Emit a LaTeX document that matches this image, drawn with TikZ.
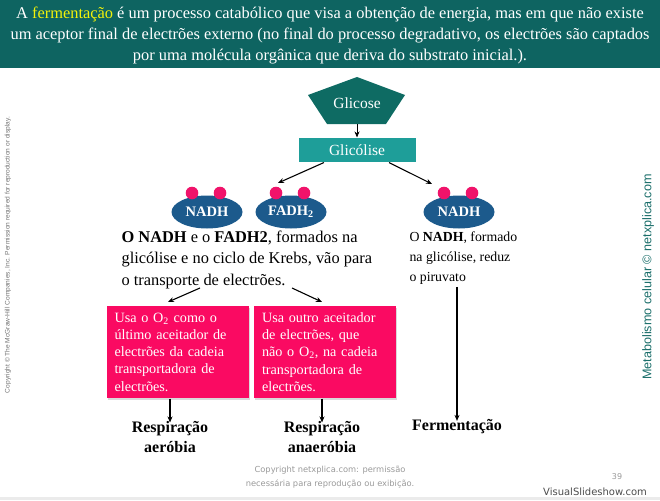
\documentclass[tikz,border=0pt]{standalone}
\usepackage{fontspec}
\setmainfont{Liberation Serif}
\setsansfont{Liberation Sans}
\newfontfamily\verdfont{DejaVu Sans}
\usetikzlibrary{shadows,arrows.meta,shapes.geometric}
\definecolor{banner}{HTML}{0E6461}
\definecolor{glicose}{HTML}{0E6B63}
\definecolor{glicolise}{HTML}{1E9E99}
\definecolor{carrier}{HTML}{1C5A8C}
\definecolor{dot}{HTML}{F0136A}
\definecolor{pinkbox}{HTML}{FA0A62}
\definecolor{sidetxt}{HTML}{1A6E6A}
\definecolor{fermyellow}{HTML}{F2F20A}
\tikzset{
  carrierbox/.style={ellipse,fill=carrier,minimum width=71pt,minimum height=33pt,inner sep=0pt,
    text=white,font=\bfseries\fontsize{14.5}{14.5}\selectfont},
  pinkrect/.style={fill=pinkbox,text=white,minimum width=139pt,minimum height=92pt,inner xsep=8pt,
    text width=126pt,align=left,font=\fontsize{14.2}{17.3}\selectfont,
    drop shadow={shadow xshift=1pt,shadow yshift=-2pt,opacity=.3}},
  resultlbl/.style={font=\bfseries\fontsize{16}{20}\selectfont,align=center},
}
\begin{document}
\begin{tikzpicture}[x=1pt,y=-1pt,>={Stealth[length=6pt,width=5pt]},line width=1.1pt]
  \useasboundingbox (0,0) rectangle (660,500);
  \fill[banner] (0,0) rectangle (660,68);
  \fill[black!8] (0,497) rectangle (660,500);
  \node[text=white,align=center,font=\fontsize{16.4}{21}\selectfont] (intro) at (330,35)
    {A \textcolor{fermyellow}{fermentação} é um processo catabólico que visa a obtenção de energia, mas em que não existe\\
     um aceptor final de electrões externo (no final do processo degradativo, os electrões são captados\\
     por uma molécula orgânica que deriva do substrato inicial.).};
  % side notes
  \node[rotate=90,text=black!55,font=\sffamily\fontsize{6.6}{7}\selectfont] (mcgraw) at (8,255)
    {Copyright © The McGraw-Hill Companies, Inc. Permission required for reproduction or display.};
  \node[rotate=90,text=sidetxt,font=\sffamily\fontsize{12.6}{14}\selectfont] (netx) at (648,277)
    {Metabolismo celular © netxplica.com};
  % glicose and glicolise
  \fill[glicose] (357,77) -- (405,95) -- (386,124) -- (327,124) -- (308,95) -- cycle;
  \node[text=white,font=\fontsize{15.5}{15.5}\selectfont] (glicose) at (357,103) {Glicose};
  \coordinate (gbot) at (357,124);
  \node[fill=glicolise,text=white,minimum width=117pt,minimum height=24pt,
    font=\fontsize{15.5}{15.5}\selectfont] (glic) at (357,150) {Glicólise};
  \draw[->,line width=.8pt] (gbot) -- (glic.north);
  % carriers
  \foreach \n/\x/\t in {nadhA/207/NADH,fadh/291/FADH\textsubscript{2},nadhB/459/NADH}{
    \node[carrierbox] (\n) at (\x,212) {\t};
    \fill[dot] (\x-15,193) circle (6.3pt) (\x+13,193) circle (6.3pt);
  }
  \coordinate (tipL) at (278,183);
  \coordinate (tipR) at (432,184);
  \draw[->] (glic.south west) ++(26,0) -- (tipL);
  \draw[->] (glic.south east) ++(-27,0) -- (tipR);
  % texts
  \node[anchor=north west,inner sep=0pt,align=left,font=\fontsize{16.4}{21.5}\selectfont] (cadeia) at (121,230)
    {\textbf{O NADH} e o \textbf{FADH2}, formados na\\
     glicólise e no ciclo de Krebs, vão para\\
     o transporte de electrões.};
  \node[anchor=north west,inner sep=0pt,align=left,font=\fontsize{13.8}{20}\selectfont] (piru) at (409,231)
    {O \textbf{NADH}, formado\\ na glicólise, reduz\\ o piruvato};
  \node[pinkrect] (boxA) at (177.5,352) {Usa o O\textsubscript{2} como o\\ último aceitador de\\ electrões da cadeia\\ transportadora de\\ electrões.};
  \node[pinkrect] (boxB) at (325,352) {Usa outro aceitador\\ de electrões, que\\ não o O\textsubscript{2}, na cadeia\\ transportadora de\\ electrões.};
  \coordinate (fromA) at (200,288);
  \coordinate (fromB) at (292,288);
  \draw[->] (fromA) -- (168,302);
  \draw[->] (fromB) -- (322,302);
  % results
  \node[resultlbl] (respA) at (170,437) {Respiração\\ aeróbia};
  \node[resultlbl] (respB) at (322,437) {Respiração\\ anaeróbia};
  \node[resultlbl] (ferm) at (457,427) {Fermentação};
  \draw[->] (boxA.south -| respA) -- ([yshift=-5pt]respA.north);
  \draw[->] (boxB.south -| respB) -- ([yshift=-5pt]respB.north);
  \draw[->] (piru.south -| ferm) ++(0,2) -- ([yshift=-5pt]ferm.north);
  % footer
  \node[text=black!40,align=center,font=\verdfont\fontsize{8.3}{14}\selectfont] (copy) at (330,477)
    {Copyright netxplica.com: permissão\\ necessária para reprodução ou exibição.};
  \node[text=black!40,font=\verdfont\fontsize{8}{8}\selectfont] (page) at (617,477) {39};
  \node[text=black!70,font=\verdfont\fontsize{10}{10}\selectfont] (vss) at (595,492) {VisualSlideshow.com};
\end{tikzpicture}
\end{document}
